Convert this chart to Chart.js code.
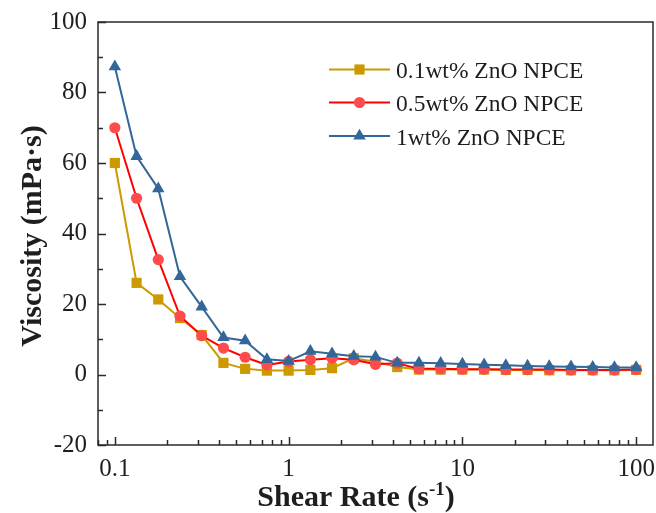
<!DOCTYPE html>
<html><head><meta charset="utf-8">
<script src="https://cdn.jsdelivr.net/npm/chart.js@4/dist/chart.umd.min.js"></script>
<style>html,body{margin:0;padding:0;background:#fff;}canvas{display:block;}</style>
</head><body>
<canvas id="c" width="656" height="513" style="width:656px;height:513px"></canvas>
<script>
const shearRate = [0.1, 0.1334, 0.1778, 0.2371, 0.3162, 0.4217, 0.5623, 0.7499, 1, 1.334, 1.778, 2.371, 3.162, 4.217, 5.623, 7.499, 10, 13.34, 17.78, 23.71, 31.62, 42.17, 56.23, 74.99, 100];
const visc01 = [60, 26, 21.3, 16, 11.2, 3.3, 1.6, 1.1, 1.1, 1.3, 1.8, 4.6, 3.6, 2.1, 1.4, 1.4, 1.4, 1.4, 1.3, 1.3, 1.2, 1.2, 1.2, 1.2, 1.3];
const visc05 = [70, 50, 32.6, 16.6, 11, 7.5, 4.9, 2.7, 3.7, 4.2, 4.6, 4.2, 2.9, 3.2, 1.6, 1.6, 1.5, 1.5, 1.4, 1.4, 1.4, 1.3, 1.3, 1.3, 1.4];
const visc1 = [87.3, 61.9, 52.7, 27.8, 19.2, 10.5, 9.6, 4.3, 3.8, 6.6, 5.9, 5.2, 5.0, 3.3, 3.3, 3.2, 3.0, 2.8, 2.6, 2.4, 2.3, 2.2, 2.1, 2.0, 2.0];
const seriesLabels = ['0.1wt% ZnO NPCE', '0.5wt% ZnO NPCE', '1wt% ZnO NPCE'];
const xTickValues = [0.1, 1, 10, 100];
const yTickValues = [-20, 0, 20, 40, 60, 80, 100];
const xTitleMain = 'Shear Rate (s';
const xTitleSup = '-1';
const xTitleEnd = ')';
const yTitle = 'Viscosity (mPa·s)';

const SERIF = '"Liberation Serif", "Times New Roman", serif';
const TEXT = '#1e1e1e';
const styles = [
  {line: '#CC9900', fill: '#CC9900', shape: 'rect', r: 7.2},
  {line: '#FF0000', fill: '#FF4B4B', shape: 'circle', r: 5.6},
  {line: '#336699', fill: '#336699', shape: 'triangle', r: 7.2}
];
const values = [visc01, visc05, visc1];

function mark(ctx, shape, r, x, y, color) {
  ctx.save();
  ctx.fillStyle = color;
  ctx.beginPath();
  if (shape === 'rect') {
    const s = r * Math.SQRT1_2;
    ctx.rect(x - s, y - s, 2 * s, 2 * s);
  } else if (shape === 'circle') {
    ctx.arc(x, y, r, 0, Math.PI * 2);
  } else {
    ctx.moveTo(x, y - r);
    ctx.lineTo(x + r * Math.sin(Math.PI * 2 / 3), y + r * 0.5);
    ctx.lineTo(x - r * Math.sin(Math.PI * 2 / 3), y + r * 0.5);
    ctx.closePath();
  }
  ctx.fill();
  ctx.restore();
}

const decorPlugin = {
  id: 'decor',
  afterDraw(chart) {
    const ctx = chart.ctx;
    const a = chart.chartArea;
    const xs = chart.scales.x, ys = chart.scales.y;
    ctx.save();
    ctx.strokeStyle = '#2a2a2a';
    ctx.lineWidth = 1.5;
    ctx.strokeRect(a.left, a.top, a.right - a.left, a.bottom - a.top);
    ctx.beginPath();
    for (let d = 0.01; d <= 100; d *= 10) {
      for (let m = 1; m <= 9; m++) {
        const v = +(m * d).toPrecision(6);
        if (v < xs.min || v > xs.max) continue;
        const px = Math.round(xs.getPixelForValue(v)) + 0.5;
        const len = m === 1 ? 8 : 5;
        ctx.moveTo(px, a.bottom);
        ctx.lineTo(px, a.bottom - len);
      }
    }
    for (let v = -20; v <= 100; v += 10) {
      const py = Math.round(ys.getPixelForValue(v)) + 0.5;
      const len = (v % 20 === 0) ? 8 : 5;
      ctx.moveTo(a.left, py);
      ctx.lineTo(a.left + len, py);
    }
    ctx.stroke();

    ctx.fillStyle = TEXT;
    ctx.save();
    ctx.translate(33, 236);
    ctx.rotate(-Math.PI / 2);
    ctx.font = 'bold 30px ' + SERIF;
    ctx.textAlign = 'center';
    ctx.textBaseline = 'middle';
    ctx.fillText(yTitle, 0, 0);
    ctx.restore();

    const bigF = 'bold 30px ' + SERIF, supF = 'bold 19px ' + SERIF;
    ctx.font = bigF; const w1 = ctx.measureText(xTitleMain).width; const w3 = ctx.measureText(xTitleEnd).width;
    ctx.font = supF; const w2 = ctx.measureText(xTitleSup).width;
    const total = w1 + w2 + w3;
    const x0 = 356 - total / 2;
    const base = 506;
    ctx.textAlign = 'left';
    ctx.textBaseline = 'alphabetic';
    ctx.font = bigF; ctx.fillText(xTitleMain, x0, base);
    ctx.font = supF; ctx.fillText(xTitleSup, x0 + w1, base - 11);
    ctx.font = bigF; ctx.fillText(xTitleEnd, x0 + w1 + w2, base);

    const rows = [69.5, 102.5, 136];
    ctx.font = '23.5px ' + SERIF;
    ctx.textBaseline = 'middle';
    for (let i = 0; i < 3; i++) {
      const y = rows[i];
      ctx.strokeStyle = styles[i].line;
      ctx.lineWidth = 2;
      ctx.beginPath();
      ctx.moveTo(329, y);
      ctx.lineTo(390, y);
      ctx.stroke();
      mark(ctx, styles[i].shape, styles[i].r, 359.5, y, styles[i].fill);
      ctx.fillStyle = TEXT;
      ctx.fillText(seriesLabels[i], 396, y + 2.5);
    }
    ctx.restore();
  }
};

const datasets = values.map((vals, i) => ({
  label: seriesLabels[i],
  data: shearRate.map((x, j) => ({x: x, y: vals[j]})),
  borderColor: styles[i].line,
  backgroundColor: styles[i].fill,
  pointBackgroundColor: styles[i].fill,
  pointBorderWidth: 0,
  pointStyle: styles[i].shape,
  pointRadius: styles[i].r,
  borderWidth: 2,
  tension: 0,
  order: 3 - i
}));

new Chart(document.getElementById('c'), {
  type: 'line',
  data: {datasets: datasets},
  plugins: [decorPlugin],
  options: {
    responsive: false,
    animation: false,
    devicePixelRatio: 1,
    layout: {autoPadding: false, padding: {top: 22, right: 3, bottom: 0, left: 0}},
    plugins: {legend: {display: false}, tooltip: {enabled: false}, title: {display: false}},
    scales: {
      x: {
        type: 'logarithmic', min: 0.08, max: 125, position: 'bottom',
        grid: {display: false, drawTicks: false}, border: {display: false},
        afterBuildTicks: s => { s.ticks = xTickValues.map(v => ({value: v, major: true})); },
        afterFit: s => { s.height = 68; s.paddingLeft = 0; s.paddingRight = 0; },
        ticks: {autoSkip: false, maxRotation: 0, padding: 9, color: TEXT, font: {family: SERIF, size: 25},
          callback: v => String(v)}
      },
      y: {
        min: -20, max: 100,
        grid: {display: false, drawTicks: false}, border: {display: false},
        afterBuildTicks: s => { s.ticks = yTickValues.map(v => ({value: v})); },
        afterFit: s => { s.width = 98; s.paddingTop = 0; s.paddingBottom = 0; },
        ticks: {padding: 11, color: TEXT, font: {family: SERIF, size: 25}}
      }
    }
  }
});
</script>
</body></html>
